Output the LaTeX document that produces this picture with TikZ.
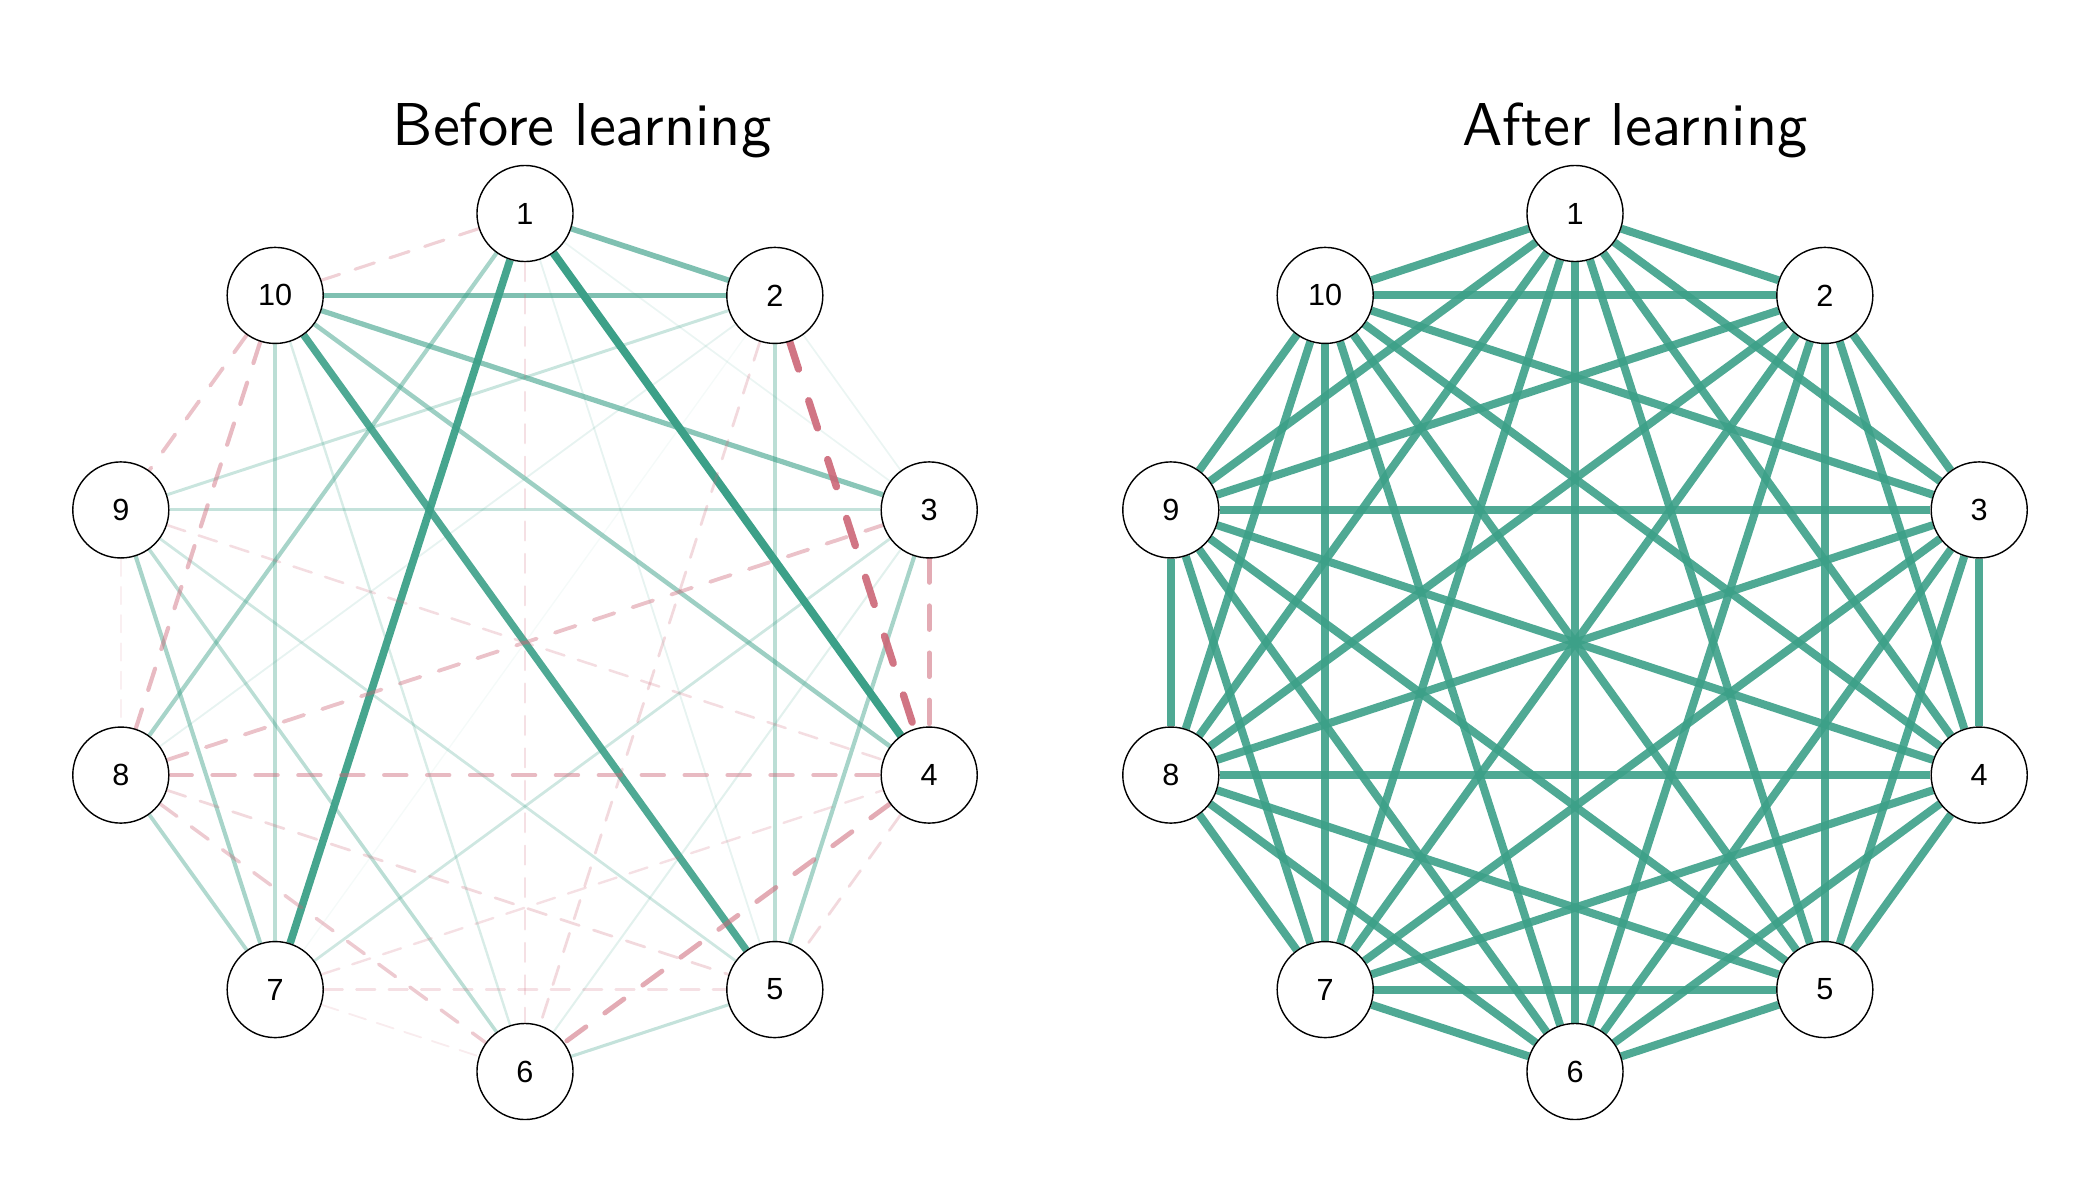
\documentclass[tikz,border=0pt]{standalone}
\usepackage{fontspec}
\newfontfamily\labfont{Liberation Sans}
\newfontfamily\titlefont{lmsans10-regular.otf}
\definecolor{tgreen}{RGB}{60,160,136}
\definecolor{tpink}{RGB}{204,102,119}
\pgfdeclarelayer{edges}
\pgfsetlayers{edges,main}
\tikzset{
  vnode/.style={circle, draw=black, line width=0.4pt, fill=white, minimum size=0.96cm, inner sep=0pt, font=\labfont\fontsize{8.7}{10}\selectfont},
  ptitle/.style={anchor=base, font=\titlefont\fontsize{17.2}{20}\selectfont},
  gedge/.style={draw=tgreen, line cap=butt},
  pedge/.style={draw=tpink, line cap=round},
  redge/.style={draw=tgreen, draw opacity=0.9, line width=2.28pt}
}
\begin{document}
\begin{tikzpicture}[x=0.01cm, y=-0.01cm]
\useasboundingbox (0,0) rectangle (2100,1200);
\node[ptitle] (tl) at (582,145) {Before learning};
\node[ptitle] (tr) at (1635,145) {After learning};
\foreach \k in {1,...,10}{
  \pgfmathsetmacro\ang{90-36*(\k-1)}
  \node[vnode] (L\k) at ({525+425*cos(\ang)},{642.5-429*sin(\ang)}) {\k};
  \node[vnode] (R\k) at ({1575+425*cos(\ang)},{642.5-429*sin(\ang)}) {\k};
}
\begin{pgfonlayer}{edges}
% left panel: positive (green, solid)
\foreach \a/\b/\w in {2/7/0.05, 2/3/0.1, 1/3/0.1, 1/5/0.12, 2/8/0.12, 3/6/0.15,
  10/6/0.2, 3/7/0.25, 9/5/0.25, 2/9/0.28, 9/3/0.3, 6/5/0.3, 2/5/0.35, 10/7/0.35,
  9/6/0.35, 8/7/0.4, 9/7/0.45, 1/8/0.45, 3/5/0.45, 10/4/0.5, 10/3/0.6,
  1/2/0.66, 10/2/0.66, 10/5/0.9, 1/7/0.95, 1/4/1.0}{
  \pgfmathsetmacro\lw{(1+7*\w)*0.2845}
  \draw[gedge, line width=\lw pt, draw opacity=\w] (L\a) -- (L\b);
}
% left panel: negative (pink, dashed)
\foreach \a/\b/\w in {7/6/0.12, 9/8/0.1, 1/6/0.2, 7/5/0.2, 7/4/0.2, 9/4/0.22,
  2/6/0.25, 4/5/0.25, 8/5/0.25, 1/10/0.3, 8/6/0.35, 10/9/0.4, 8/3/0.4,
  10/8/0.45, 8/4/0.45, 3/4/0.55, 4/6/0.55, 2/4/0.9}{
  \pgfmathsetmacro\lw{(1+7*\w)*0.2845}
  \pgfmathsetmacro\don{(14+2*(1+7*\w))*0.2845}
  \pgfmathsetmacro\doff{(4+4*(1+7*\w))*0.2845}
  \draw[pedge, line width=\lw pt, draw opacity=\w, dash pattern=on \don pt off \doff pt] (L\a) -- (L\b);
}
% right panel: complete graph
\foreach \a in {1,...,9}{
  \pgfmathtruncatemacro\s{\a+1}
  \foreach \b in {\s,...,10}{
    \draw[redge] (R\a) -- (R\b);
  }
}
\end{pgfonlayer}
\end{tikzpicture}
\end{document}
